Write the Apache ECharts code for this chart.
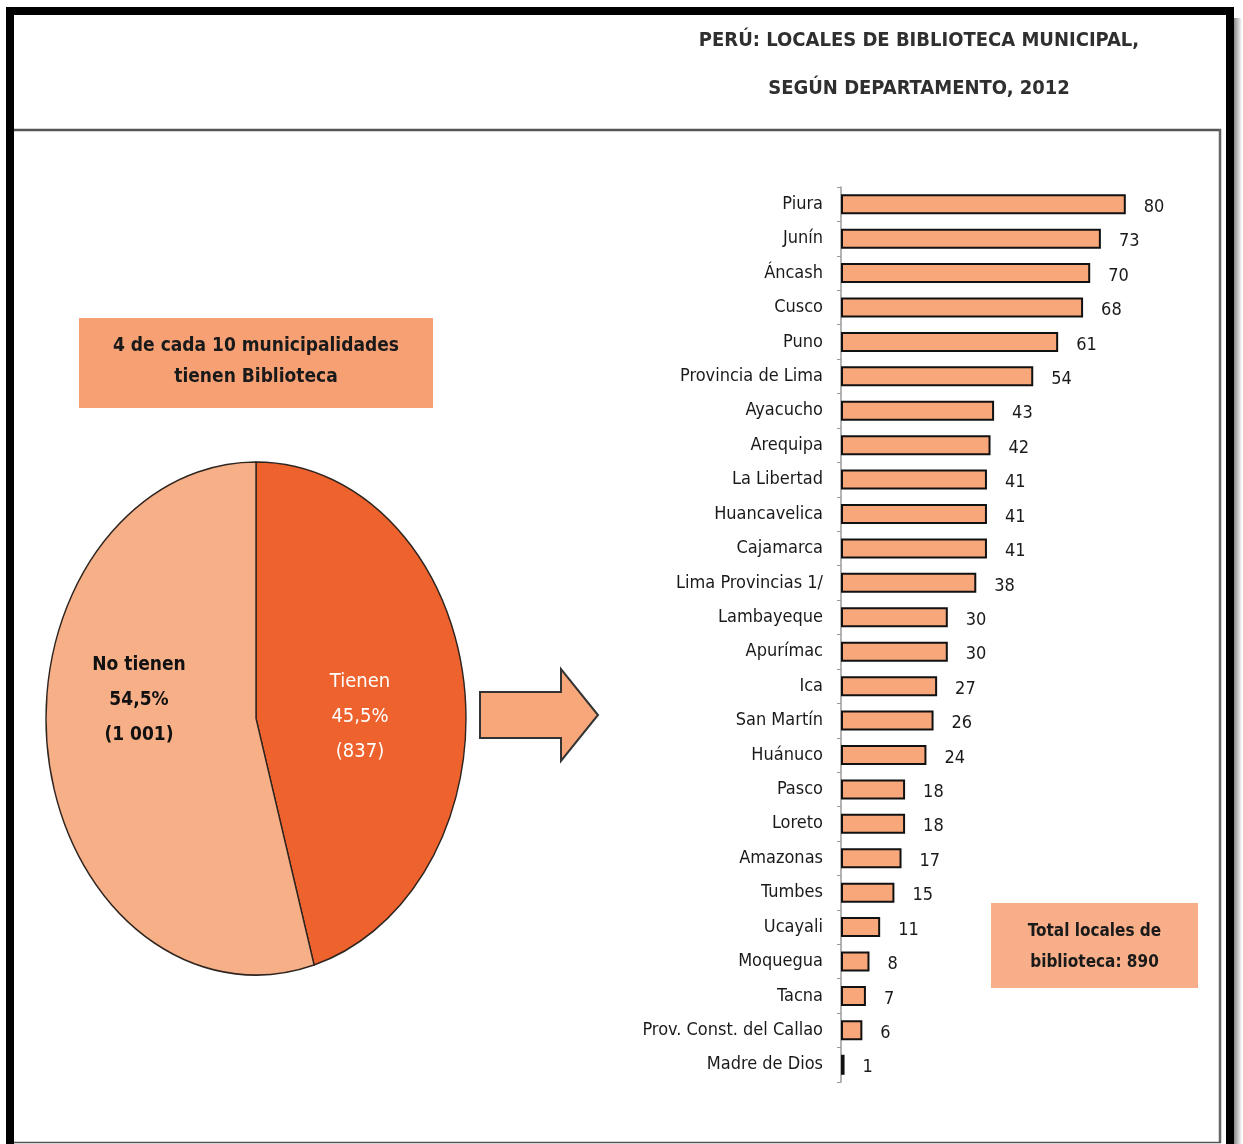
<!DOCTYPE html>
<html><head><meta charset="utf-8">
<script src="https://cdn.jsdelivr.net/npm/echarts@6/dist/echarts.min.js"></script>
<style>html,body{margin:0;padding:0;background:#fff}#c{width:1243px;height:1144px}</style>
</head><body><div id="c"></div>
<script>
const FONT = '"DejaVu Sans Condensed","Liberation Sans Narrow",sans-serif';
const titleLines = ['PERÚ: LOCALES DE BIBLIOTECA MUNICIPAL,', 'SEGÚN DEPARTAMENTO, 2012'];
const departamentos = ['Piura','Junín','Áncash','Cusco','Puno','Provincia de Lima','Ayacucho','Arequipa','La Libertad','Huancavelica','Cajamarca','Lima Provincias 1/','Lambayeque','Apurímac','Ica','San Martín','Huánuco','Pasco','Loreto','Amazonas','Tumbes','Ucayali','Moquegua','Tacna','Prov. Const. del Callao','Madre de Dios'];
const locales = [80,73,70,68,61,54,43,42,41,41,41,38,30,30,27,26,24,18,18,17,15,11,8,7,6,1];
const pieNames = ['Tienen','No tienen'];
const pieValues = [837, 1001];
const boxText1 = '4 de cada 10 municipalidades\ntienen Biblioteca';
const boxText2 = 'Total locales de\nbiblioteca: 890';

const pieTotal = pieValues.reduce((a,b)=>a+b,0);
function fmtPct(v){return (v/pieTotal*100).toFixed(1).replace('.',',')+'%';}
function fmtNum(v){return String(v).replace(/\B(?=(\d{3})+(?!\d))/g,' ');}

const PIE = {cx:256, cy:718.5, r:210, sy:256.5/210};
const pieColors = ['#EE622D','#F6AF86'];
const pieLabelPos = [[360,717],[139,700]];
const pieLabelStyle = [
  {fill:'#ffffff', fontWeight:'normal', fontSize:20},
  {fill:'#111111', fontWeight:'bold', fontSize:19}
];

const chart = echarts.init(document.getElementById('c'), null, {renderer:'canvas'});
chart.setOption({
  animation:false,
  backgroundColor:'#ffffff',
  grid:{left:841, top:187, width:356, height:895, containLabel:false},
  xAxis:{type:'value', min:0, max:100, show:false},
  yAxis:{type:'category', data:departamentos, inverse:true,
    axisLine:{show:true, lineStyle:{color:'#9a9a9a', width:1.5}},
    axisTick:{show:true, length:4, lineStyle:{color:'#9a9a9a'}},
    axisLabel:{margin:18, fontFamily:FONT, fontSize:18, color:'#1a1a1a'}
  },
  series:[
    {type:'bar', data:locales, barWidth:20,
     itemStyle:{color:'#F7A779', borderColor:'#111', borderWidth:2},
     label:{show:true, position:'right', distance:18, fontFamily:FONT, fontSize:18, color:'#1a1a1a', offset:[0,3]}
    },
    {type:'custom', coordinateSystem:'none',
     data:pieValues.map((v,i)=>({name:pieNames[i], value:v})),
     renderItem:function(params, api){
       const i = params.dataIndex;
       let before = 0; for(let k=0;k<i;k++) before += pieValues[k];
       const v = api.value(0);
       const start = -Math.PI/2 + 2*Math.PI*before/pieTotal;
       const end = start + 2*Math.PI*v/pieTotal;
       return {type:'group', children:[
         {type:'sector', x:PIE.cx, y:PIE.cy, scaleY:PIE.sy,
          shape:{cx:0, cy:0, r0:0, r:PIE.r, startAngle:start, endAngle:end, clockwise:true},
          style:{fill:pieColors[i], stroke:'#2e2420', lineWidth:1.4, strokeNoScale:true}},
         {type:'text', x:pieLabelPos[i][0], y:pieLabelPos[i][1],
          style:{text:pieNames[i]+'\n'+fmtPct(v)+'\n('+fmtNum(v)+')', align:'center', verticalAlign:'middle',
                 fontFamily:FONT, fontSize:pieLabelStyle[i].fontSize, lineHeight:35, fill:pieLabelStyle[i].fill, fontWeight:pieLabelStyle[i].fontWeight}}
       ]};
     }
    }
  ],
  graphic:[
    {type:'rect', shape:{x:1234, y:18, width:8, height:1126},
     style:{fill:new echarts.graphic.LinearGradient(0,0,1,0,[{offset:0,color:'#8a8a8a'},{offset:1,color:'#ffffff'}])}, z:99},
    {type:'rect', shape:{x:10, y:11, width:1220, height:1160}, style:{fill:'none', stroke:'#000', lineWidth:8}, z:100},
    {type:'line', shape:{x1:14, y1:130, x2:1221, y2:130}, style:{stroke:'#555', lineWidth:2.5}, z:100},
    {type:'line', shape:{x1:1220, y1:129, x2:1220, y2:1143}, style:{stroke:'#666', lineWidth:2.5}, z:100},
    {type:'line', shape:{x1:14, y1:1142.5, x2:1221, y2:1142.5}, style:{stroke:'#555', lineWidth:1.5}, z:100},
    {type:'text', x:919, y:41, style:{text:titleLines[0], align:'center', verticalAlign:'middle', fontFamily:FONT, fontSize:20, fontWeight:'bold', fill:'#2f2f2f'}},
    {type:'text', x:919, y:89, style:{text:titleLines[1], align:'center', verticalAlign:'middle', fontFamily:FONT, fontSize:20, fontWeight:'bold', fill:'#2f2f2f'}},
    {type:'rect', shape:{x:79, y:318, width:354, height:90}, style:{fill:'#F7A074'}},
    {type:'text', x:256, y:362, style:{text:boxText1, align:'center', verticalAlign:'middle', fontFamily:FONT, fontSize:19, fontWeight:'bold', lineHeight:31, fill:'#1a1a1a'}},
    {type:'rect', shape:{x:991, y:903, width:207, height:85}, style:{fill:'#F8AE88'}},
    {type:'text', x:1094.5, y:947, style:{text:boxText2, align:'center', verticalAlign:'middle', fontFamily:FONT, fontSize:17, fontWeight:'bold', lineHeight:31, fill:'#1a1a1a'}},
    {type:'polygon', shape:{points:[[480,692],[561,692],[561,669],[598,715],[561,761],[561,738],[480,738]]},
     style:{fill:'#F7A779', stroke:'#333', lineWidth:2}}
  ]
});
</script></body></html>
